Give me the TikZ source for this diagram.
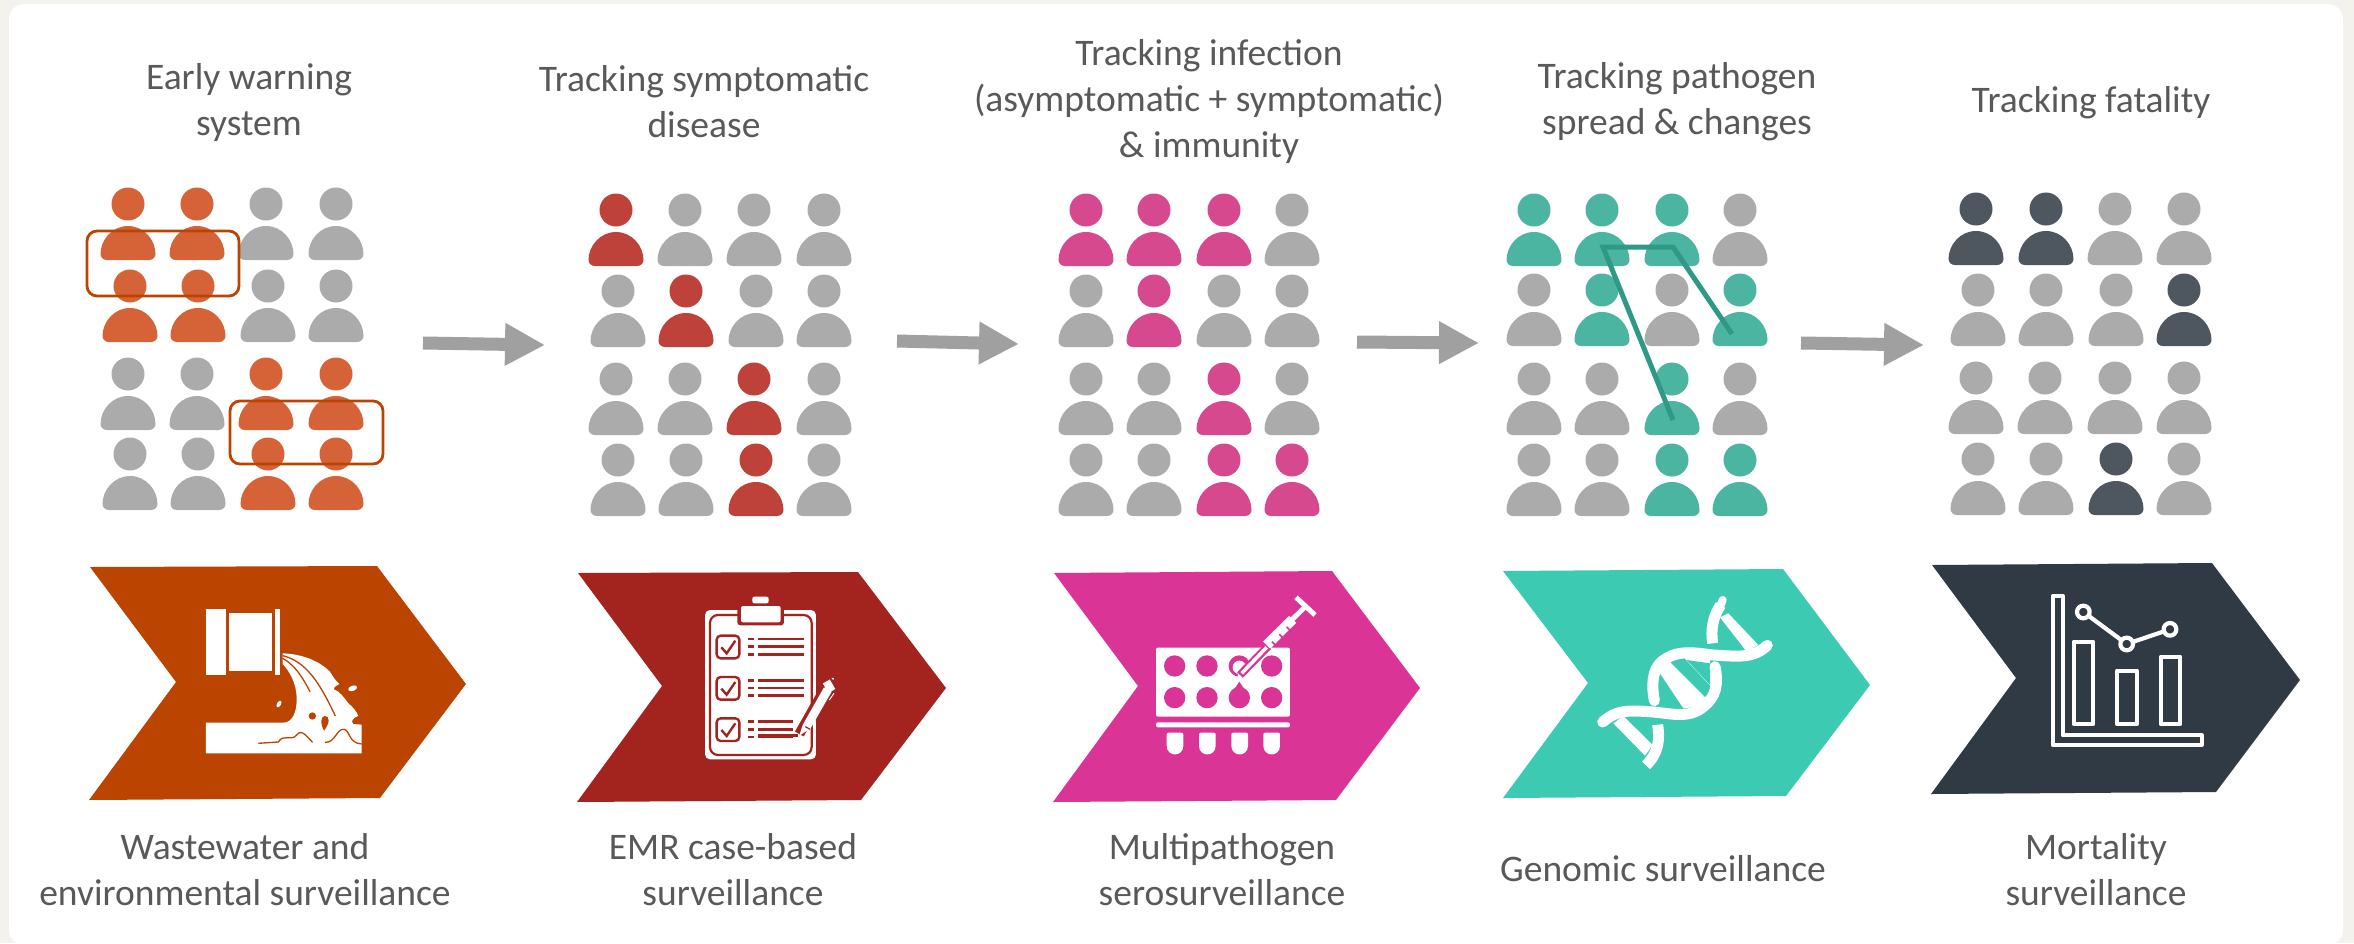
\documentclass[tikz,border=0pt]{standalone}
\usepackage{fontspec}
\setmainfont{Carlito}
\usetikzlibrary{arrows.meta}

\definecolor{pagebg}{HTML}{F3F2EC}
\definecolor{inktext}{HTML}{595959}
\definecolor{flowgrey}{HTML}{A0A0A0}
\definecolor{idlep}{HTML}{ABABAB}
\definecolor{wastep}{HTML}{D66238}
\definecolor{casep}{HTML}{BE413A}
\definecolor{serop}{HTML}{D6498F}
\definecolor{genomep}{HTML}{4BB5A2}
\definecolor{deathp}{HTML}{4E5660}
\definecolor{wastec}{HTML}{BB4500}
\definecolor{casec}{HTML}{A3241F}
\definecolor{seroc}{HTML}{D93496}
\definecolor{genomec}{HTML}{3CCBB2}
\definecolor{deathc}{HTML}{303A45}
\definecolor{spreadc}{HTML}{2E9A86}

\begin{document}
\begin{tikzpicture}[x=1pt, y=-1pt,
    label/.style = {align=center, text=inktext, font=\fontsize{37.5}{46}\selectfont, inner sep=0pt},
    flow/.style = {draw=flowgrey, line width=13pt, -{Triangle[length=40pt, width=40pt]}},
    cluster/.style = {draw=wastec, line width=2.8pt, rounded corners=10pt},
    spread/.style = {draw=spreadc, line width=5pt, miter limit=10},
    zoomed/.style = {x=.3333pt, y=-.3333pt},
    pics/person/.style = {code={
        \fill[#1] (0,0) circle [radius=16.5];
        \fill[#1] (-21,56) .. controls (-25,56) and (-27.5,53) .. (-27.5,50)
            .. controls (-27.5,36) and (-16,22) .. (0,22)
            .. controls (16,22) and (27.5,36) .. (27.5,50)
            .. controls (27.5,53) and (25,56) .. (21,56) -- cycle;
    }}]
    \useasboundingbox (0,0) rectangle (2354,943);
    \fill[pagebg] (0,0) rectangle (2354,943);
    \fill[white, rounded corners=15pt] (9,4) rectangle (2343,945);

    % Titles
    \node[label] (title1) at (249,102) {Early warning\\system};
    \node[label] (title2) at (704,102) {Tracking symptomatic\\disease};
    \node[label] (title3) at (1209,101) {Tracking infection\\(asymptomatic + symptomatic)\\\& immunity};
    \node[label] (title4) at (1677,102) {Tracking pathogen\\spread \& changes};
    \node[label] (title5) at (2091,103) {Tracking fatality};

    % Captions
    \node[label] (cap1) at (245,870) {Wastewater and\\environmental surveillance};
    \node[label] (cap2) at (733,870) {EMR case-based\\surveillance};
    \node[label] (cap3) at (1222,870) {Multipathogen\\serosurveillance};
    \node[label] (cap4) at (1663,869) {Genomic surveillance};
    \node[label] (cap5) at (2096,870) {Mortality\\surveillance};

    % People, early warning
    \foreach \xx/\cc in {128/wastep,197/wastep,266/idlep,336/idlep} \pic at (\xx,204) {person=\cc};
    \foreach \xx/\cc in {130/wastep,198/wastep,268/idlep,336/idlep} \pic at (\xx,286) {person=\cc};
    \foreach \xx/\cc in {128/idlep,197/idlep,266/wastep,336/wastep} \pic at (\xx,374) {person=\cc};
    \foreach \xx/\cc in {130/idlep,198/idlep,268/wastep,336/wastep} \pic at (\xx,454) {person=\cc};

    % People, symptomatic
    \foreach \xx/\cc in {616/casep,685/idlep,754/idlep,824/idlep} \pic at (\xx,210) {person=\cc};
    \foreach \xx/\cc in {618/idlep,686/casep,756/idlep,824/idlep} \pic at (\xx,291) {person=\cc};
    \foreach \xx/\cc in {616/idlep,685/idlep,754/casep,824/idlep} \pic at (\xx,379) {person=\cc};
    \foreach \xx/\cc in {618/idlep,686/idlep,756/casep,824/idlep} \pic at (\xx,460) {person=\cc};

    % People, infection
    \foreach \xx/\cc in {1086/serop,1154/serop,1224/serop,1292/idlep} \pic at (\xx,210) {person=\cc};
    \foreach \xx/\cc in {1086/idlep,1154/serop,1224/idlep,1292/idlep} \pic at (\xx,291) {person=\cc};
    \foreach \xx/\cc in {1086/idlep,1154/idlep,1224/serop,1292/idlep} \pic at (\xx,379) {person=\cc};
    \foreach \xx/\cc in {1086/idlep,1154/idlep,1224/serop,1292/serop} \pic at (\xx,460) {person=\cc};

    % People, pathogen
    \foreach \xx/\cc in {1534/genomep,1602/genomep,1672/genomep,1740/idlep} \pic at (\xx,210) {person=\cc};
    \foreach \xx/\cc in {1534/idlep,1602/genomep,1672/idlep,1740/genomep} \pic at (\xx,290) {person=\cc};
    \foreach \xx/\cc in {1534/idlep,1602/idlep,1672/genomep,1740/idlep} \pic at (\xx,379) {person=\cc};
    \foreach \xx/\cc in {1534/idlep,1602/idlep,1672/genomep,1740/genomep} \pic at (\xx,460) {person=\cc};

    % People, fatality
    \foreach \xx/\cc in {1976/deathp,2046/deathp,2115/idlep,2184/idlep} \pic at (\xx,209) {person=\cc};
    \foreach \xx/\cc in {1978/idlep,2046/idlep,2116/idlep,2184/deathp} \pic at (\xx,290) {person=\cc};
    \foreach \xx/\cc in {1976/idlep,2045/idlep,2115/idlep,2184/idlep} \pic at (\xx,378) {person=\cc};
    \foreach \xx/\cc in {1978/idlep,2046/idlep,2116/deathp,2184/idlep} \pic at (\xx,459) {person=\cc};

    % Clusters
    \draw[cluster] (87,231) rectangle (239,296);
    \draw[cluster] (230,401) rectangle (383,464);

    % Spread lines
    \coordinate (hop1) at (1673,420);
    \coordinate (hop2) at (1603,247);
    \coordinate (hop3) at (1673,247);
    \coordinate (hop4) at (1732,334);
    \draw[spread] (hop1) -- (hop2) -- (hop3) -- (hop4);

    % Arrows
    \coordinate (from1) at (423,343);
    \coordinate (to1) at (545,345);
    \coordinate (from2) at (897,341);
    \coordinate (to2) at (1019,344);
    \coordinate (from3) at (1357,342);
    \coordinate (to3) at (1479,343);
    \coordinate (from4) at (1801,343);
    \coordinate (to4) at (1924,345);
    \draw[flow] (from1) -- (to1);
    \draw[flow] (from2) -- (to2);
    \draw[flow] (from3) -- (to3);
    \draw[flow] (from4) -- (to4);

    % Chevrons
    \fill[wastec] (90,567) -- (377,566) -- (466,684) -- (380,798) -- (89,800) -- (176,682) -- cycle;
    \fill[casec] (578,573) -- (858,572) -- (946,688) -- (861,800) -- (577,802) -- (662,686) -- cycle;
    \fill[seroc] (1054,573) -- (1332,571) -- (1420,688) -- (1336,800) -- (1053,802) -- (1138,686) -- cycle;
    \fill[genomec] (1503,571) -- (1783,569) -- (1870,685) -- (1786,796) -- (1503,798) -- (1588,683) -- cycle;
    \fill[deathc] (1932,565) -- (2212,563) -- (2300,680) -- (2216,792) -- (1931,794) -- (2016,678) -- cycle;

    % Icon, pipe
    \begin{scope}[shift={(170,590)}, zoomed]
        \fill[white] (108,57) rectangle (168,254);
        \fill[white] (177,68) rectangle (307,242);
        \fill[white] (314,57) rectangle (330,254);
        \fill[white] (338,190) .. controls (400,192) and (450,215) .. (480,245)
            .. controls (490,262) and (495,270) .. (508,282)
            .. controls (500,288) and (490,290) .. (492,298)
            .. controls (510,305) and (520,320) .. (535,340)
            .. controls (550,352) and (560,365) .. (565,378)
            .. controls (550,382) and (540,395) .. (550,402)
            -- (575,404) -- (575,490) -- (108,490) -- (108,398) -- (340,398)
            .. controls (365,398) and (382,370) .. (380,320)
            .. controls (378,280) and (360,245) .. (338,222) -- cycle;
        \draw[wastec, line width=1.3pt] (338,205) .. controls (375,225) and (400,265) .. (420,305);
        \draw[wastec, line width=1.3pt] (338,197) .. controls (410,215) and (450,280) .. (496,378);
        \draw[wastec, line width=1.3pt] (265,460) -- (325,456) .. controls (340,430) and (365,455) .. (380,435)
            .. controls (395,415) and (410,440) .. (428,457);
        \draw[wastec, line width=1.3pt] (465,457) .. controls (495,460) and (500,415) .. (522,418)
            .. controls (540,420) and (535,460) .. (575,462);
        \fill[wastec] (427,378) circle [radius=11];
        \fill[wastec] (462,422) .. controls (450,400) and (452,378) .. (465,378)
            .. controls (480,378) and (480,400) .. (462,422) -- cycle;
        \fill[white, rotate around={20:(548,295)}] (548,295) ellipse [x radius=14, y radius=8];
        \fill[white, rotate around={-30:(327,342)}] (327,342) ellipse [x radius=6, y radius=11];
    \end{scope}

    % Icon, clipboard
    \begin{scope}[shift={(680,590)}, zoomed]
        \fill[white, rounded corners=5pt] (75,60) rectangle (408,508);
        \draw[casec, line width=2.2pt, rounded corners=8pt] (90,75) rectangle (395,495);
        \fill[casec, rounded corners=3pt] (172,40) rectangle (312,106);
        \fill[white, rounded corners=2pt] (183,48) rectangle (302,97);
        \fill[white, rounded corners=2pt] (217,20) rectangle (266,40);
        \foreach \yy/\ww in {0/372,124/372,248/338} {
            \draw[casec, line width=2.4pt, rounded corners=4pt] (110,137+\yy) rectangle (178,205+\yy);
            \draw[casec, line width=2.4pt] (124,172+\yy) -- (140,190+\yy) -- (166,152+\yy);
            \foreach \dd in {147,170,193} {
                \draw[casec, line width=2.4pt] (203,\dd+\yy) -- (222,\dd+\yy);
                \draw[casec, line width=2.4pt] (233,\dd+\yy) -- (\ww,\dd+\yy);
            }
        }
        \draw[casec, line width=2.4pt] (233,437) -- (355,437);
        \draw[casec, line width=10pt] (358,432) -- (430,305);
        \fill[white] (358,437) -- (368,405) -- (432,292) -- (455,305) -- (392,415) -- cycle;
        \draw[casec, line width=1.2pt] (376,410) -- (390,418);
        \fill[white, rotate around={30:(448,290)}] (436,272) rectangle (460,305);
        \draw[white, line width=1.5pt, line cap=round] (457,265) -- (460,267);
        \draw[white, line width=1pt] (462,310) -- (448,330);
    \end{scope}

    % Icon, plate
    \begin{scope}[shift={(1140,590)}, zoomed]
        \fill[white, rounded corners=2pt] (48,173) rectangle (450,380);
        \foreach \xx in {104,201,298,395} {
            \fill[seroc] (\xx,228) circle [radius=32];
            \fill[seroc] (\xx,323) circle [radius=32];
        }
        \fill[seroc] (298,275) -- (280,302) -- (316,302) -- cycle;
        \fill[white] (298,232) circle [radius=20];
        \fill[white] (298,232) -- (345,205) -- (345,275) -- (290,275) -- cycle;
        \fill[white, rounded corners=2pt] (48,397) rectangle (450,412);
        \foreach \xx in {80,177,274,370} {
            \fill[white] (\xx,434) .. controls (\xx,430) and (\xx+2,428) .. (\xx+6,428) -- (\xx+44,428)
                .. controls (\xx+48,428) and (\xx+50,430) .. (\xx+50,434) -- (\xx+50,467)
                .. controls (\xx+50,502) and (\xx,502) .. (\xx,467) -- cycle;
        }
        \draw[seroc, line width=8pt] (300,255) -- (385,168);
        \draw[white, line width=3.6pt] (305,250) -- (380,172);
        \draw[white, line width=10pt] (380,165) -- (458,88);
        \foreach \ss in {0,1,2} {
            \draw[seroc, line width=1.6pt] (396+\ss*22,155-\ss*22) -- (412+\ss*22,171-\ss*22);
        }
        \draw[white, line width=5pt] (455,90) -- (496,50);
        \draw[white, line width=5pt] (468,22) -- (525,75);
    \end{scope}

    % Icon, helix
    \begin{scope}[shift={(1580,610)}, zoomed]
        \fill[white] (100,340) -- (130,318) -- (218,405) -- (195,437) -- cycle;
        \fill[white] (420,22) -- (445,10) -- (535,105) -- (500,125) -- cycle;
        \fill[white] (230,175) -- (270,150) -- (390,265) -- (355,290) -- (310,295) -- cycle;
        \fill[white] (300,130) -- (390,150) -- (395,232) -- cycle;
        \fill[genomec] (272,158) -- (284,146) -- (386,248) -- (376,262) -- cycle;
        \fill[genomec] (240,225) -- (240,280) -- (310,295) -- cycle;
        \fill[genomec] (320,150) -- (390,160) -- (390,225) -- cycle;
        \draw[white, line width=11pt, line cap=round] (68,336) .. controls (110,300) and (140,300) .. (220,306)
            .. controls (280,312) and (330,325) .. (370,290) .. controls (410,260) and (415,220) .. (405,170);
        \draw[white, line width=11pt, line cap=round] (562,106) .. controls (520,145) and (480,140) .. (400,135)
            .. controls (340,128) and (290,118) .. (245,155) .. controls (215,180) and (215,230) .. (223,272);
        \draw[white, line width=11pt] (398,100) .. controls (392,60) and (398,20) .. (422,-15);
        \draw[white, line width=8pt, line cap=round] (422,-15) -- (428,-30);
        \draw[white, line width=11pt] (233,344) .. controls (240,390) and (235,430) .. (198,466);
    \end{scope}

    % Icon, chart
    \begin{scope}[shift={(2020,580)}, zoomed, line width=4.2pt, draw=white, line join=round]
        \draw (98,48) -- (128,48) -- (128,466) -- (545,466) -- (545,495) -- (98,495) -- cycle;
        \draw (161,185) rectangle (220,432);
        \draw (291,272) rectangle (351,432);
        \draw (422,230) rectangle (481,432);
        \draw (190,96) -- (320,192) -- (450,148);
        \draw[fill=deathc] (190,96) circle [radius=19];
        \draw[fill=deathc] (320,192) circle [radius=19];
        \draw[fill=deathc] (450,148) circle [radius=19];
    \end{scope}
\end{tikzpicture}
\end{document}
